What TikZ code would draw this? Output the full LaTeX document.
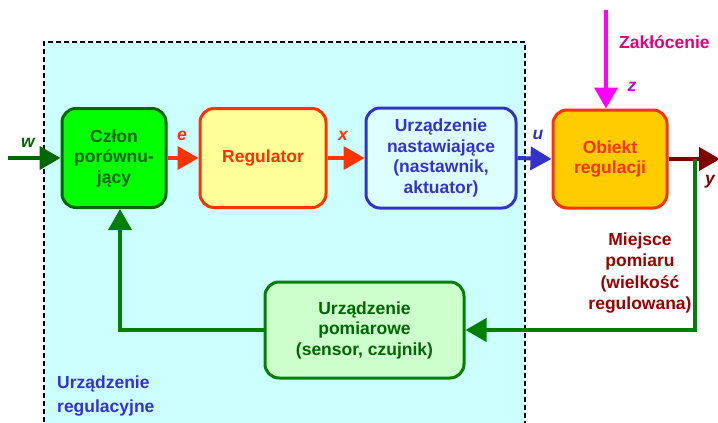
\documentclass[tikz,border=0pt]{standalone}
\usepackage{fontspec}
\setmainfont{Liberation Sans}
\usetikzlibrary{arrows.meta}
\definecolor{regbg}{HTML}{CCFFFF}
\definecolor{dgreen}{HTML}{006600}
\definecolor{fgreen}{HTML}{008000}
\definecolor{lime}{HTML}{00FF00}
\definecolor{redor}{HTML}{FF3300}
\definecolor{paley}{HTML}{FFFF99}
\definecolor{blu}{HTML}{3333CC}
\definecolor{actbg}{HTML}{DDFFFF}
\definecolor{amber}{HTML}{FFCC00}
\definecolor{maroon}{HTML}{800000}
\definecolor{dred}{HTML}{990000}
\definecolor{magen}{HTML}{FF00FF}
\definecolor{pinkt}{HTML}{E0007F}
\definecolor{measbg}{HTML}{CCFFCC}
\begin{document}
\begin{tikzpicture}[x=1pt,y=-1pt,
  font=\bfseries\fontsize{17.5}{20.5}\selectfont,
  block/.style={rounded corners=14pt, line width=3pt, align=center, inner sep=0pt},
  arr/.style={line width=4pt, -{Triangle[length=21pt,width=23pt]}},
  sig/.style={font=\bfseries\itshape\fontsize{17.5}{20}\selectfont}]
\useasboundingbox (0,0) rectangle (718,423);
% regulating device area
\begin{scope}
  \clip (0,0) rectangle (718,423);
  \fill[regbg] (44,42) rectangle (525,430);
  \draw[line width=1.3pt, dash pattern=on 5pt off 3pt] (44,430) -- (44,42) -- (525,42) -- (525,430);
\end{scope}
% blocks
\node[block, draw=dgreen, fill=lime, text=dgreen, minimum width=104pt, minimum height=99pt] (cz) at (114,158) {Człon\\porównu-\\jący};
\node[block, draw=redor, fill=paley, text=redor, minimum width=126pt, minimum height=99pt] (reg) at (263,158) {Regulator};
\node[block, draw=blu, fill=actbg, text=blu, minimum width=150pt, minimum height=100pt] (act) at (441,158) {Urządzenie\\nastawiające\\(nastawnik,\\aktuator)};
\node[block, draw=redor, fill=amber, text=redor, minimum width=114pt, minimum height=98pt] (obj) at (610,159) {Obiekt\\regulacji};
\node[block, draw=fgreen, fill=measbg, text=dgreen, minimum width=199pt, minimum height=96pt] (meas) at (364.5,330) {Urządzenie\\pomiarowe\\(sensor, czujnik)};
% signals
\coordinate (win) at (8,158);
\coordinate (zin) at (606,10);
\coordinate (yout) at (720,159);
\coordinate (tap) at (695,159);
\draw[arr, dgreen] (win) -- (cz.west);
\draw[arr, redor] (cz.east) -- (reg.west);
\draw[arr, redor] (reg.east) -- (act.west);
\draw[arr, blu] (act.east) -- (obj.west);
\draw[arr, magen] (zin) -- (zin |- obj.north);
\draw[arr, maroon] (obj.east) -- (yout);
\draw[arr, fgreen] (tap) |- (meas.east);
\draw[arr, fgreen] (meas.west) -| ([xshift=6pt]cz.south);
% labels
\node[sig, text=dgreen] (lw) at (28,143) {w};
\node[sig, text=redor] (le) at (182,136) {e};
\node[sig, text=redor] (lx) at (343,136) {x};
\node[sig, text=blu] (lu) at (538,135) {u};
\node[sig, text=magen!80!black] (lz) at (632,87) {z};
\node[sig, text=maroon] (ly) at (710,182) {y};
\node[text=pinkt, anchor=west, inner sep=0pt] (dist) at (619,42) {Zakłócenie};
\node[text=dred, align=center, font=\bfseries\fontsize{17.5}{21.5}\selectfont] (mp) at (640,273) {Miejsce\\pomiaru\\(wielkość\\regulowana)};
\node[text=blu, align=left, anchor=north west, inner sep=0pt, font=\bfseries\fontsize{17.5}{24}\selectfont] (ur) at (57,376) {Urządzenie\\regulacyjne};
\end{tikzpicture}
\end{document}
